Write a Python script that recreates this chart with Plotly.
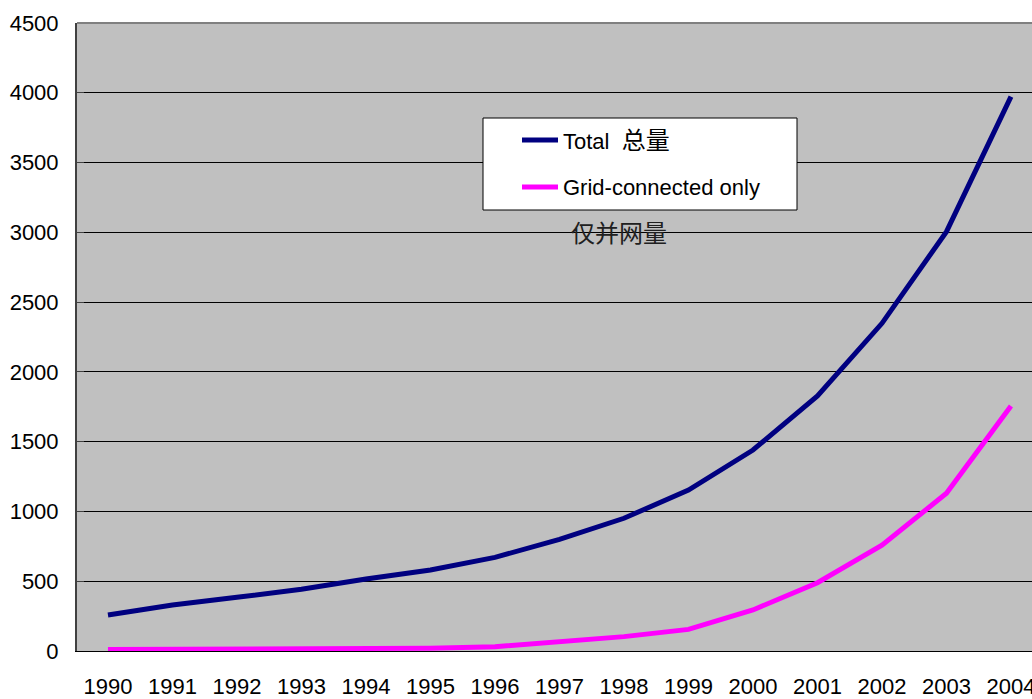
import plotly.graph_objects as go

# Cumulative installed PV capacity (MW), 1990-2004
years = list(range(1990, 2005))
total = [258, 330, 385, 442, 516, 580, 671, 800, 951, 1153, 1440, 1827, 2348, 3005, 3972]
grid_connected = [10, 12, 14, 16, 18, 20, 31, 64, 103, 155, 294, 489, 759, 1130, 1755]

series_names = ["Total\u00a0\u00a0<span style=\"font-size:24px\">总量</span>", "Grid-connected only"]
series_colors = ["#000080", "#FF00FF"]
note_text = "仅并网量"

y_ticks = [0, 500, 1000, 1500, 2000, 2500, 3000, 3500, 4000, 4500]

LATIN = "Liberation Sans, Arial, sans-serif"
CJK = "Noto Sans CJK SC, sans-serif"

fig = go.Figure()
for name, values, color in zip(series_names, [total, grid_connected], series_colors):
    fig.add_trace(go.Scatter(
        x=years, y=values, mode="lines", name=name,
        line=dict(color=color, width=5),
        showlegend=False, hoverinfo="x+y",
    ))

fig.update_layout(
    width=1032, height=699,
    margin=dict(l=77, r=0, t=23, b=48),
    paper_bgcolor="white",
    plot_bgcolor="#C0C0C0",
    font=dict(family=LATIN, size=22, color="black"),
    xaxis=dict(
        range=[1989.52, 2004.326],
        tickmode="array", tickvals=years, ticktext=[str(y) for y in years],
        showgrid=False, zeroline=False,
        showline=True, linecolor="black", linewidth=1,
        ticks="", ticklabelstandoff=16, ticklabeloverflow="allow",
        automargin=False,
        tickfont=dict(family=LATIN, size=22),
    ),
    yaxis=dict(
        range=[0, 4500],
        tickmode="array", tickvals=y_ticks,
        showgrid=True, gridcolor="black", gridwidth=1,
        zeroline=False,
        showline=True, linecolor="#404040", linewidth=2,
        ticks="inside", ticklen=7, tickcolor="#404040",
        ticklabelstandoff=12, ticklabeloverflow="allow",
        automargin=False,
        tickfont=dict(family=LATIN, size=22),
    ),
)

shapes = [
    # top edge of plot area
    dict(type="line", xref="paper", yref="paper", x0=0, x1=1, y0=1, y1=1,
         line=dict(color="#808080", width=2)),
    # legend box
    dict(type="rect", xref="paper", yref="paper",
         x0=(483 - 77) / 955, x1=(797 - 77) / 955,
         y0=(651 - 210) / 628, y1=(651 - 118) / 628,
         fillcolor="white", line=dict(color="black", width=1)),
]
annotations = []
legend_rows = [140, 187]
for name, color, ypix in zip(series_names, series_colors, legend_rows):
    yp = (651 - ypix) / 628
    shapes.append(dict(type="line", xref="paper", yref="paper",
                       x0=(522 - 77) / 955, x1=(558 - 77) / 955, y0=yp, y1=yp,
                       line=dict(color=color, width=5)))
    annotations.append(dict(xref="paper", yref="paper",
                            x=(561 - 77) / 955, y=yp, xanchor="left", yanchor="middle",
                            text=name, showarrow=False,
                            font=dict(family=LATIN + ", " + CJK, size=22, color="black")))

annotations.append(dict(xref="paper", yref="paper",
                        x=(619 - 77) / 955, y=(651 - 231) / 628,
                        xanchor="center", yanchor="middle",
                        text=note_text, showarrow=False,
                        font=dict(family=CJK, size=24, color="#202020")))

fig.update_layout(shapes=shapes, annotations=annotations)

fig.write_html("out.html")
